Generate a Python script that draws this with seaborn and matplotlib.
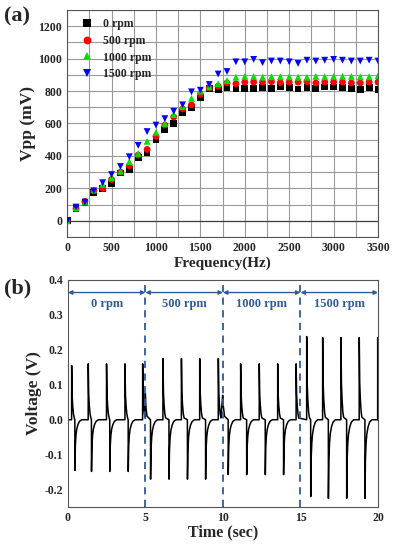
import numpy as np
import pandas as pd
import matplotlib
matplotlib.use("Agg")
import matplotlib.pyplot as plt
import seaborn as sns

# ---- (a) Vpp vs frequency ----
freq = list(range(0, 3600, 100))
vpp_0 = [0, 75, 110, 175, 200, 230, 295, 315, 390, 420, 500, 565, 600, 670, 700, 760,
         815, 810, 820, 812, 815, 818, 820, 818, 830, 820, 812, 822, 815, 825, 825, 822,
         815, 810, 822, 810]
vpp_500 = [0, 75, 120, 185, 200, 255, 300, 340, 405, 440, 520, 590, 640, 690, 715, 780,
           820, 830, 850, 845, 855, 855, 855, 858, 852, 855, 855, 858, 850, 855, 855, 855,
           850, 850, 855, 855]
vpp_1000 = [0, 80, 115, 190, 225, 265, 305, 365, 415, 490, 545, 600, 655, 705, 755, 800,
            825, 845, 865, 885, 890, 890, 885, 888, 888, 888, 885, 885, 890, 888, 890, 890,
            890, 888, 888, 895]
vpp_1500 = [0, 85, 115, 185, 235, 285, 335, 395, 465, 550, 590, 630, 675, 715, 795, 805,
            840, 905, 920, 980, 980, 995, 975, 985, 985, 980, 970, 990, 985, 990, 995, 990,
            985, 985, 990, 985]
series_names = ["0 rpm", "500 rpm", "1000 rpm", "1500 rpm"]
series_colors = ["#000000", "#ff0000", "#00e000", "#0000ff"]
series_markers = ["s", "o", "^", "v"]

# ---- (b) voltage trace: spike events ----
pos_times = [0.24, 1.31, 2.49, 3.68, 4.82, 6.13, 7.32, 8.50, 9.70,
             11.14, 12.34, 13.53, 14.72, 15.40, 16.43, 17.61, 18.79, 19.98]
pos_amps = [0.155, 0.16, 0.16, 0.16, 0.16, 0.175, 0.175, 0.175, 0.175,
            0.16, 0.16, 0.16, 0.16, 0.238, 0.235, 0.235, 0.235, 0.235]
neg_times = [0.45, 1.52, 2.70, 3.89, 5.33, 6.52, 7.71, 8.88,
             10.34, 11.53, 12.73, 13.91, 15.66, 16.80, 17.98, 19.16]
neg_amps = [0.145, 0.148, 0.148, 0.148, 0.17, 0.17, 0.17, 0.17,
            0.157, 0.157, 0.157, 0.157, 0.22, 0.225, 0.225, 0.225]
# shape of one spike (time offset, fraction of peak)
pos_shape_dt = [-0.004, 0.0, 0.03, 0.07, 0.12, 0.17]
pos_shape_v = [0.0, 1.0, 0.45, 0.25, 0.10, 0.03]
neg_shape_dt = [-0.005, 0.0, 0.03, 0.07, 0.12, 0.20, 0.30, 0.45]
neg_shape_v = [0.0, -1.0, -0.5, -0.3, -0.18, -0.09, -0.03, 0.0]
# splice glitches at the segment joins
glitch_t = [4.99, 5.02, 5.10, 9.98, 10.02, 10.10]
glitch_v = [0.075, 0.04, 0.01, 0.07, 0.04, 0.01]

section_labels = ["0 rpm", "500 rpm", "1000 rpm", "1500 rpm"]
section_edges = [0, 5, 10, 15, 20]
blue_ann = "#2f5b98"

sns.set_style("ticks")
plt.rcParams["font.family"] = ["Liberation Serif", "DejaVu Serif"]
plt.rcParams["font.weight"] = "bold"
plt.rcParams["axes.unicode_minus"] = False

fig = plt.figure(figsize=(3.95, 5.5), dpi=100)
ax1 = fig.add_axes([0.170, 0.569, 0.787, 0.413])
ax2 = fig.add_axes([0.172, 0.078, 0.785, 0.413])

# top panel
df = pd.DataFrame({
    "freq": freq * 4,
    "vpp": vpp_0 + vpp_500 + vpp_1000 + vpp_1500,
    "rpm": sum([[n] * len(freq) for n in series_names], []),
})
sns.scatterplot(data=df, x="freq", y="vpp", hue="rpm", style="rpm",
                hue_order=series_names, style_order=series_names,
                palette=dict(zip(series_names, series_colors)),
                markers=dict(zip(series_names, series_markers)),
                s=24, linewidth=0, ax=ax1, zorder=3)
ax1.set_xlim(0, 3500)
ax1.set_ylim(-100, 1300)
ax1.set_xticks(range(0, 3501, 500))
ax1.set_xticks(range(0, 3501, 250), minor=True)
ax1.set_yticks(range(0, 1201, 200))
ax1.set_yticks(range(-100, 1301, 100), minor=True)
ax1.grid(True, which="both", color="#9a9a9a", lw=0.8)
ax1.axhline(0, color="#404040", lw=0.9, zorder=2)
ax1.tick_params(which="both", length=0, labelsize=8.5)
ax1.set_xlabel("Frequency(Hz)", fontsize=11, fontweight="bold", labelpad=2)
ax1.set_ylabel("Vpp (mV)", fontsize=12.5, fontweight="bold", labelpad=2)
leg = ax1.legend(loc="upper left", frameon=False, fontsize=8.5, handletextpad=0.3,
                 labelspacing=0.4, borderaxespad=0.3, markerscale=1.15)
for t in leg.get_texts():
    t.set_fontweight("bold")
for sp in ax1.spines.values():
    sp.set_color("#555555")
    sp.set_linewidth(0.8)

# bottom panel: assemble breakpoints
pts = []
for t0, a in zip(pos_times, pos_amps):
    pts += [(t0 + d, a * f) for d, f in zip(pos_shape_dt, pos_shape_v)]
for t0, b in zip(neg_times, neg_amps):
    pts += [(t0 + d, b * f) for d, f in zip(neg_shape_dt, neg_shape_v)]
pts += list(zip(glitch_t, glitch_v))
pts += [(0.0, 0.0), (20.0, 0.0)]
pts.sort()
trace = pd.DataFrame(pts, columns=["t", "v"])
trace = trace[(trace.t >= 0) & (trace.t <= 20)]
sns.lineplot(data=trace, x="t", y="v", estimator=None, sort=False,
             color="black", lw=1.1, ax=ax2)
ax2.set_xlim(0, 20)
ax2.set_ylim(-0.25, 0.4)
ax2.set_xticks(section_edges)
ax2.set_yticks(np.round(np.arange(-0.2, 0.41, 0.1), 1))
ax2.yaxis.set_major_formatter(matplotlib.ticker.FormatStrFormatter("%.1f"))
ax2.tick_params(length=0, labelsize=8.5)
ax2.set_xlabel("Time (sec)", fontsize=11.5, fontweight="bold", labelpad=0)
ax2.set_ylabel("Voltage (V)", fontsize=12.5, fontweight="bold", labelpad=2)
for x in section_edges[1:-1]:
    ax2.axvline(x, color=blue_ann, ls=(0, (4, 3)), lw=1.3)
for lab, a, b in zip(section_labels, section_edges[:-1], section_edges[1:]):
    ax2.annotate("", xy=(b, 0.364), xytext=(a, 0.364),
                 arrowprops=dict(arrowstyle="<|-|>", color=blue_ann, lw=1,
                                 mutation_scale=6, shrinkA=0, shrinkB=0))
    ax2.text((a + b) / 2, 0.33, lab, color=blue_ann, fontsize=9,
             fontweight="bold", ha="center", va="center")
for sp in ax2.spines.values():
    sp.set_color("#555555")
    sp.set_linewidth(0.8)

fig.text(0.01, 0.988, "(a)", fontsize=16, fontweight="bold", va="top")
fig.text(0.01, 0.493, "(b)", fontsize=16, fontweight="bold", va="top")

fig.savefig("out.png", dpi=100)
